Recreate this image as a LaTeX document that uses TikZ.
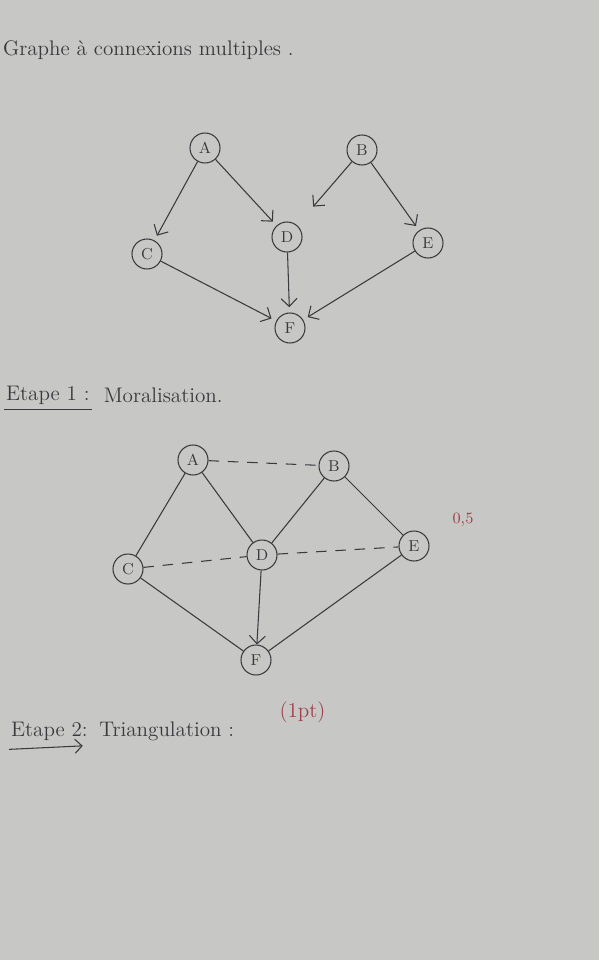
\documentclass[tikz,border=0pt]{standalone}
\usepackage{tikz}
\usetikzlibrary{arrows.meta,positioning}
\definecolor{Paper}{RGB}{199,199,197}
\definecolor{Ink}{HTML}{3A3A3E}
\definecolor{RedInk}{HTML}{A0404A}

\begin{document}
\begin{tikzpicture}[
  var/.style={circle, draw=Ink, line width=0.6pt, minimum size=6mm, inner sep=0pt,
              font=\small\color{Ink}},
  arr/.style={-{Straight Barb[length=1.6mm]}, line width=0.6pt, draw=Ink, shorten >=3pt},
  edge/.style={line width=0.6pt, draw=Ink},
  moral/.style={line width=0.6pt, draw=Ink, dashed, dash pattern=on 6pt off 5pt},
  hand/.style={font=\large\color{Ink}, anchor=west, inner sep=1pt}]
  \fill[Paper] (0,0) rectangle (11.98,-19.2);
  \useasboundingbox (0,0) rectangle (11.98,-19.2);
  % titre
  \node[hand] (titre) at (0.02,-1.0) {Graphe \`a connexions multiples .};
  % graphe de depart
  \node[var] (A1) at (4.10,-2.96) {A};
  \node[var] (B1) at (7.24,-3.00) {B};
  \node[var] (C1) at (2.94,-5.08) {C};
  \node[var] (D1) at (5.74,-4.74) {D};
  \node[var] (E1) at (8.56,-4.86) {E};
  \node[var] (F1) at (5.80,-6.56) {F};
  \draw[arr] (A1)--(C1); \draw[arr] (A1)--(D1);
  \draw[arr, shorten >=14pt] (B1)--(D1); \draw[arr] (B1)--(E1);
  \draw[arr] (C1)--(F1); \draw[arr] (D1)--(F1); \draw[arr] (E1)--(F1);
  % etape 1
  \node[hand] (et1) at (0.08,-7.9) {Etape 1 :};
  \draw[edge] ([yshift=-2pt]et1.south west)--([yshift=-2pt]et1.south east);
  \node[hand, right=0.2cm of et1] (moralis) {Moralisation.};
  \node[var] (A2) at (3.86,-9.20) {A};
  \node[var] (B2) at (6.68,-9.32) {B};
  \node[var] (C2) at (2.56,-11.38) {C};
  \node[var] (D2) at (5.24,-11.10) {D};
  \node[var] (E2) at (8.28,-10.92) {E};
  \node[var] (F2) at (5.12,-13.20) {F};
  \draw[edge] (A2)--(C2); \draw[edge] (A2)--(D2);
  \draw[edge] (B2)--(D2); \draw[edge] (B2)--(E2);
  \draw[edge] (C2)--(F2); \draw[arr, shorten >=0pt] (D2)--(F2); \draw[edge] (E2)--(F2);
  \draw[moral] (A2)--(B2);
  \draw[moral] (C2)--(D2); \draw[moral] (D2)--(E2);
  \node[font=\small\color{RedInk}] (note) at (9.26,-10.40) {0,5};
  % etape 2
  \node[hand] (et2) at (0.18,-14.62) {Etape 2:};
  \draw[-{Straight Barb[length=1.4mm]}, edge] ([yshift=-4pt]et2.south west)--([xshift=-4pt,yshift=-2pt]et2.south east);
  \node[hand, right=0.15cm of et2] (triang) {Triangulation :};
  \node[font=\large\color{RedInk}] (pts) at (6.05,-14.25) {(1pt)};
\end{tikzpicture}
\end{document}
